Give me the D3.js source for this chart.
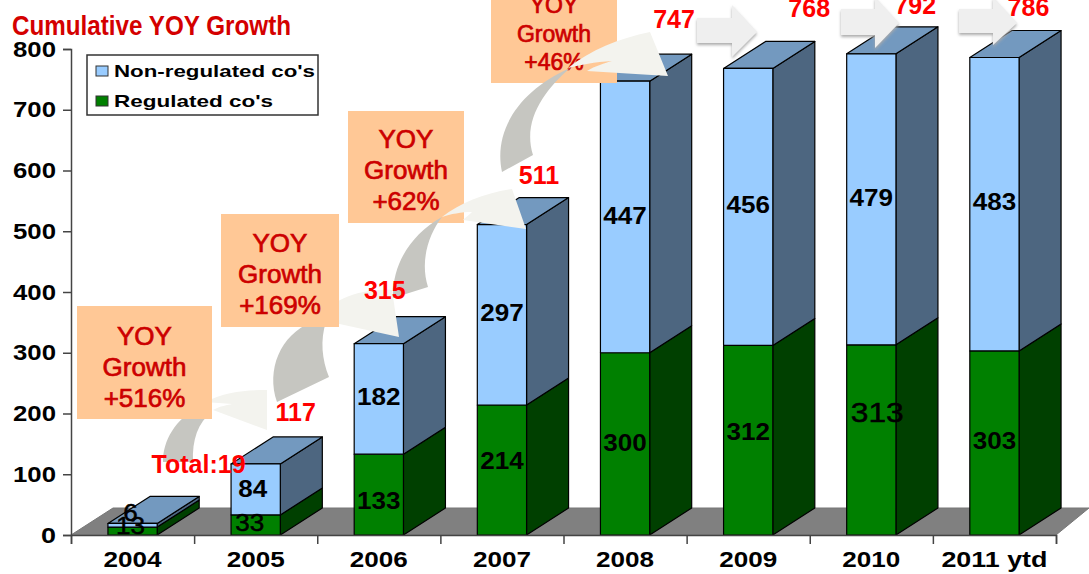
<!DOCTYPE html>
<html>
<head>
<meta charset="utf-8">
<script src="https://cdn.jsdelivr.net/npm/d3@7"></script>
<style>
    html, body { margin: 0; padding: 0; background: #fff; overflow: hidden; }
    text { font-family: "Liberation Sans", Arial, sans-serif; }
</style>
</head>
<body>
<div id="chart"></div>
<script>
(function() {
    // chart values
    var categories = ["2004", "2005", "2006", "2007", "2008", "2009", "2010", "2011 ytd"];
    var regulated = [13, 33, 133, 214, 300, 312, 313, 303];
    var nonRegulated = [6, 84, 182, 297, 447, 456, 479, 483];
    var totals = [19, 117, 315, 511, 747, 768, 792, 786];
    var totalLabels = ["Total:19", "117", "315", "511", "747", "768", "792", "786"];
    var yTicks = [0, 100, 200, 300, 400, 500, 600, 700, 800];
    var legendNames = ["Non-regulated co's", "Regulated co's"];
    var growthLabels = ["+516%", "+169%", "+62%", "+46%"];

    var width = 1089,
        height = 574,
        depthX = 42,
        depthY = 27;

    var svg = d3.select("#chart")
        .append("svg")
        .attr("width", width)
        .attr("height", height)
        .style("display", "block");

    var defs = svg.append("defs");
    defs.append("filter")
        .attr("id", "shadow")
        .attr("x", "-20%").attr("y", "-20%")
        .attr("width", "140%").attr("height", "150%")
        .append("feDropShadow")
        .attr("dx", 0).attr("dy", 2)
        .attr("stdDeviation", 1.5)
        .attr("flood-color", "#aaa");

    var x = d3.scaleBand()
        .domain(categories)
        .range([71, 1056])
        .paddingInner(0.6)
        .paddingOuter(0.3);

    var xEdge = d3.scaleLinear().domain([0, categories.length]).range([71, 1056]);

    var y = d3.scaleLinear().domain([0, 800]).range([535, 49]);

    // floor of the 3d plot
    svg.append("path")
        .attr("d", "M71,535L" + (71 + depthX) + "," + (535 - depthY) + "L1089," + (535 - depthY) + "L1089,508L1056,535Z")
        .style("fill", "#808080")
        .style("stroke", "#777")
        .style("stroke-width", 1);

    // stacks, one group per year
    var stack = categories.map(function(c, i) {
        return [
            { year: c, y0: 0, y1: regulated[i], front: "#008000", side: "#004000", top: "#004000" },
            { year: c, y0: regulated[i], y1: regulated[i] + nonRegulated[i], front: "#99ccff", side: "#4d6680", top: "#7399bf" }
        ];
    });

    var bars = svg.append("g")
        .selectAll("g")
        .data(stack)
        .enter()
        .append("g");

    var segments = bars.selectAll("g")
        .data(function(d) { return d; })
        .enter()
        .append("g")
        .style("stroke", "#000")
        .style("stroke-width", 1.2)
        .style("stroke-linejoin", "round");

    // right side
    segments.append("path")
        .attr("d", function(d) {
            var r = x(d.year) + x.bandwidth();
            return "M" + r + "," + y(d.y0) + "L" + (r + depthX) + "," + (y(d.y0) - depthY) +
                "L" + (r + depthX) + "," + (y(d.y1) - depthY) + "L" + r + "," + y(d.y1) + "Z";
        })
        .style("fill", function(d) { return d.side; });

    // top face
    segments.filter(function(d) { return d.y0 > 0; })
        .append("path")
        .attr("d", function(d) {
            var l = x(d.year), r = l + x.bandwidth(), t = y(d.y1);
            return "M" + l + "," + t + "L" + (l + depthX) + "," + (t - depthY) +
                "L" + (r + depthX) + "," + (t - depthY) + "L" + r + "," + t + "Z";
        })
        .style("fill", function(d) { return d.top; });

    // front
    segments.append("rect")
        .attr("x", function(d) { return x(d.year); })
        .attr("y", function(d) { return y(d.y1); })
        .attr("width", x.bandwidth())
        .attr("height", function(d) { return y(d.y0) - y(d.y1); })
        .style("fill", function(d) { return d.front; });

    // axes
    var yAxis = svg.append("g")
        .attr("transform", "translate(71,0)")
        .call(d3.axisLeft(y).tickValues(yTicks).tickSize(8).tickPadding(7));

    yAxis.selectAll("text")
        .style("font-size", "22px")
        .style("font-weight", "bold")
        .style("fill", "#000")
        .attr("textLength", function(d) { return d === 0 ? 15 : 43; })
        .attr("lengthAdjust", "spacingAndGlyphs");

    var xTicks = svg.append("g")
        .attr("transform", "translate(0,535)")
        .call(d3.axisBottom(xEdge).tickValues(d3.range(categories.length + 1)).tickSize(9).tickFormat(""));

    var xLabels = svg.append("g")
        .attr("transform", "translate(0,535)")
        .call(d3.axisBottom(x).tickSize(0).tickPadding(16));

    xLabels.select(".domain").remove();
    xLabels.selectAll("text")
        .style("font-size", "22px")
        .style("font-weight", "bold")
        .style("fill", "#000")
        .attr("textLength", function(d) { return d === "2011 ytd" ? 106 : 58; })
        .attr("lengthAdjust", "spacingAndGlyphs");

    [yAxis, xTicks].forEach(function(a) {
        a.selectAll(".domain, line")
            .style("stroke", "#444")
            .style("stroke-width", 1.5);
    });

    // value labels inside the bars, moved by hand where the original was moved
    var regDx = [-2, -6, 0, 0, 0, 0, 6, 0],
        regDy = [-5, -2, 6, -9, -1, -9, -28, -2],
        nonDx = [-2, -3, 0, 0, 0, 0, 0, 0],
        nonDy = [-13, -1, -2, -2, -1, -2, -2, -2],
        regSize = [23, 23, 23, 23, 23, 23, 28, 23];

    function valueLabels(values, base, dxs, dys, sizes) {
        svg.append("g")
            .selectAll("text")
            .data(values)
            .enter()
            .append("text")
            .attr("x", function(d, i) { return x(categories[i]) + x.bandwidth() / 2 + dxs[i]; })
            .attr("y", function(d, i) { return y(base[i] + d / 2) + dys[i]; })
            .attr("dy", "0.36em")
            .attr("text-anchor", "middle")
            .attr("textLength", function(d, i) {
                return String(d).length * (sizes ? sizes[i] : 23) * 0.63;
            })
            .attr("lengthAdjust", "spacingAndGlyphs")
            .style("font-size", function(d, i) { return (sizes ? sizes[i] : 23) + "px"; })
            .style("font-weight", function(d) { return d < 50 || d === 313 ? "normal" : "bold"; })
            .style("fill", "#000")
            .style("stroke", "#000")
            .style("stroke-width", function(d) { return d < 50 || d === 313 ? 0.5 : 0; })
            .text(function(d) { return d; });
    }

    valueLabels(regulated, regulated.map(function() { return 0; }), regDx, regDy, regSize);
    valueLabels(nonRegulated, regulated, nonDx, nonDy);

    // curved growth arrows: dark tail and pale head
    var curved = [
        { tail: "M163,462C163,440 175,420 200,405L212,412C198,422 192,440 193,462Z",
          head: "M205,402C225,392 245,390 267,390L267,430L213,410C220,406 228,405 232,404Z" },
        { tail: "M277,402C266,370 280,335 312,322L326,322C320,340 322,360 329,377Z",
          head: "M312,322C330,300 360,288 392,290L399,337L335,323C330,322 322,322 312,322Z" },
        { tail: "M393,298C392,265 410,235 442,217C428,235 420,262 428,287Z",
          head: "M442,217C460,203 485,193 512,189L526,229L463,220C466,217 470,214 472,212C462,212 450,214 442,217Z" },
        { tail: "M502,172C493,130 520,90 570,68C545,90 522,120 533,155Z",
          head: "M568,68C590,50 620,38 650,32L668,76L587,71C595,66 605,63 612,61C595,62 580,65 568,68Z" }
    ];

    function drawCurved(a) {
        svg.append("path").attr("d", a.tail).style("fill", "#c6c6c1");
        svg.append("path").attr("d", a.head).style("fill", "#f3f3ee");
    }

    drawCurved(curved[0]);
    drawCurved(curved[1]);

    // growth boxes
    var boxes = [
        { x: 77, y: 306, w: 135, h: 113, size: 26, lines: [336, 367, 398] },
        { x: 221, y: 214, w: 118, h: 113, size: 26, lines: [243, 274, 305] },
        { x: 348, y: 111, w: 116, h: 112, size: 26, lines: [139, 170, 201] },
        { x: 491, y: -30, w: 126, h: 113, size: 23, lines: [5, 34, 62] }
    ];

    boxes.forEach(function(b, i) {
        svg.append("rect")
            .attr("x", b.x).attr("y", b.y)
            .attr("width", b.w).attr("height", b.h)
            .style("fill", "#ffc896");
        svg.selectAll(null)
            .data(["YOY", "Growth", growthLabels[i]])
            .enter()
            .append("text")
            .attr("x", b.x + b.w / 2)
            .attr("y", function(d, j) { return b.lines[j]; })
            .attr("dy", "0.36em")
            .attr("text-anchor", "middle")
            .style("font-size", b.size + "px")
            .style("fill", "#cc0000")
            .style("stroke", "#cc0000")
            .style("stroke-width", 0.7)
            .text(function(d) { return d; });
    });

    drawCurved(curved[2]);
    drawCurved(curved[3]);

    // totals over the bars
    var totalDx = [66, 40, 6, 37, 49, 61, 44, 34],
        totalDy = [-59, -52, -54, -50, -62, -60, -49, -51];

    svg.append("g")
        .selectAll("text")
        .data(totals)
        .enter()
        .append("text")
        .attr("x", function(d, i) { return x(categories[i]) + x.bandwidth() / 2 + totalDx[i]; })
        .attr("y", function(d, i) { return y(d) + totalDy[i]; })
        .attr("dy", "0.36em")
        .attr("text-anchor", "middle")
        .style("font-size", "25px")
        .style("font-weight", "bold")
        .style("fill", "#ff0000")
        .text(function(d, i) { return totalLabels[i]; });

    // straight block arrows on the last years
    var blocks = [
        "M697,18H732V5L757,32L732,57V43H697Z",
        "M841,9H875V-3L899,23L875,48V35H841Z",
        "M959,9H993V-3L1017,23L993,45V33H959Z"
    ];

    svg.append("g")
        .selectAll("path")
        .data(blocks)
        .enter()
        .append("path")
        .attr("d", function(d) { return d; })
        .attr("filter", "url(#shadow)")
        .style("fill", "#efefef");

    // title
    svg.append("text")
        .attr("x", 12)
        .attr("y", 35)
        .attr("textLength", 279)
        .attr("lengthAdjust", "spacingAndGlyphs")
        .style("font-size", "27px")
        .style("font-weight", "bold")
        .style("fill", "#d40000")
        .text("Cumulative YOY Growth");

    // legend
    var legend = svg.append("g").attr("transform", "translate(87,55)");

    legend.append("rect")
        .attr("width", 231)
        .attr("height", 60)
        .style("fill", "#fff")
        .style("stroke", "#333")
        .style("stroke-width", 1.5);

    var legendColors = ["#99ccff", "#008000"],
        legendWidths = [201, 159];

    var items = legend.selectAll("g")
        .data(legendNames)
        .enter()
        .append("g")
        .attr("transform", function(d, i) { return "translate(9," + (16 + i * 30) + ")"; });

    items.append("rect")
        .attr("y", -5)
        .attr("width", 12)
        .attr("height", 10)
        .style("fill", function(d, i) { return legendColors[i]; })
        .style("stroke", "#333")
        .style("stroke-width", 1);

    items.append("text")
        .attr("x", 18)
        .attr("dy", "0.36em")
        .attr("textLength", function(d, i) { return legendWidths[i]; })
        .attr("lengthAdjust", "spacingAndGlyphs")
        .style("font-size", "17px")
        .style("font-weight", "bold")
        .style("fill", "#000")
        .text(function(d) { return d; });
})();
</script>
</body>
</html>
